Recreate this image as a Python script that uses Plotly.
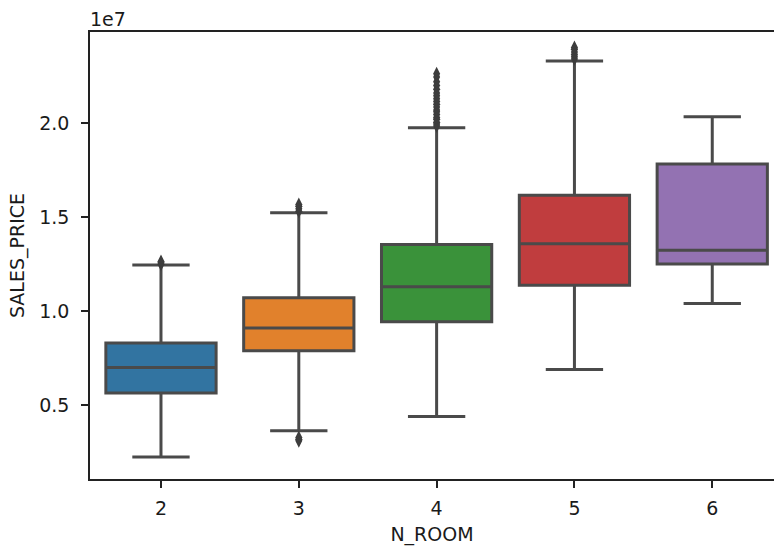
import plotly.graph_objects as go

SCALE = 1e7
CATEGORIES = ["2", "3", "4", "5", "6"]
LOWER_WHISKER = [0.226, 0.365, 0.441, 0.691, 1.042]
Q1 = [0.566, 0.790, 0.945, 1.139, 1.251]
MEDIAN = [0.702, 0.911, 1.130, 1.359, 1.325]
Q3 = [0.832, 1.072, 1.355, 1.617, 1.783]
UPPER_WHISKER = [1.246, 1.523, 1.975, 2.330, 2.034]
BOX_COLORS = ["#3274a1", "#e1812c", "#3a923a", "#c03d3e", "#9372b2"]

OUTLIERS = {
    "2": [1.250, 1.258, 1.264],
    "3": [0.312, 0.320, 0.330, 1.532, 1.545, 1.558, 1.568],
    "4": [1.985, 1.995, 2.005, 2.02, 2.03, 2.045, 2.06, 2.07, 2.085, 2.10,
          2.115, 2.13, 2.145, 2.16, 2.18, 2.20, 2.22, 2.245, 2.262],
    "5": [2.340, 2.352, 2.365, 2.378, 2.392, 2.402],
    "6": [],
}

YTICKS = [0.5, 1.0, 1.5, 2.0]
YTICK_LABELS = ["0.5", "1.0", "1.5", "2.0"]

LINE = "#4a4a4a"
FONT = dict(family="DejaVu Sans", size=19, color="#1a1a1a")

fig = go.Figure()
for i, cat in enumerate(CATEGORIES):
    fig.add_trace(go.Box(
        x=[cat],
        q1=[Q1[i] * SCALE], median=[MEDIAN[i] * SCALE], q3=[Q3[i] * SCALE],
        lowerfence=[LOWER_WHISKER[i] * SCALE], upperfence=[UPPER_WHISKER[i] * SCALE],
        fillcolor=BOX_COLORS[i],
        line=dict(color=LINE, width=3),
        width=0.8, whiskerwidth=0.52,
        boxpoints=False, showlegend=False, hoverinfo="skip",
    ))
    vals = OUTLIERS[cat]
    if vals:
        fig.add_trace(go.Scatter(
            x=[cat] * len(vals), y=[v * SCALE for v in vals], mode="markers",
            marker=dict(symbol="diamond-tall", size=10, color="#3d3d3d",
                        line=dict(width=0)),
            showlegend=False, hoverinfo="skip",
        ))

fig.update_layout(
    width=774, height=548,
    margin=dict(l=90, r=0, t=32, b=69),
    plot_bgcolor="white", paper_bgcolor="white",
    font=FONT,
    boxmode="overlay",
    showlegend=False,
)
fig.update_xaxes(
    type="category", categoryorder="array", categoryarray=CATEGORIES,
    range=[-0.515, 4.448],
    showline=True, linecolor="#222222", linewidth=1.5, mirror=True,
    ticks="outside", ticklen=7, tickwidth=1.5, tickcolor="#222222",
    showgrid=False, zeroline=False,
    ticklabelstandoff=4,
    title=dict(text="N_ROOM", standoff=10, font=FONT),
)
fig.update_yaxes(
    range=[0.109 * SCALE, 2.484 * SCALE],
    tickvals=[v * SCALE for v in YTICKS], ticktext=YTICK_LABELS,
    showline=True, linecolor="#222222", linewidth=1.5, mirror=False,
    ticks="outside", ticklen=7, tickwidth=1.5, tickcolor="#222222",
    showgrid=False, zeroline=False,
    ticklabelstandoff=8,
    title=dict(text="SALES_PRICE", standoff=10, font=FONT),
)
fig.add_annotation(
    text="1e7", xref="paper", yref="paper", x=0, y=1,
    xanchor="left", yanchor="bottom", showarrow=False, font=FONT, xshift=-2,
)
fig.write_html("out.html")
